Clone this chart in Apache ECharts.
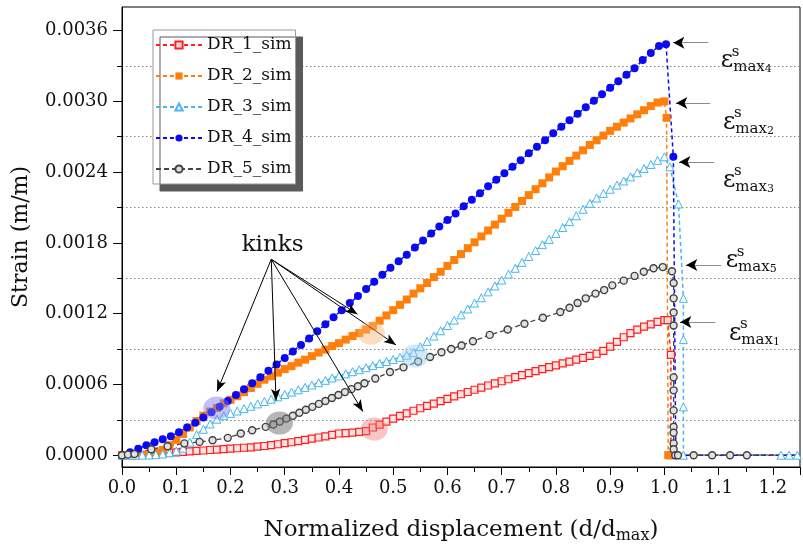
<!DOCTYPE html>
<html>
<head>
<meta charset="utf-8">
<script src="https://cdn.jsdelivr.net/npm/echarts@6/dist/echarts.min.js"></script>
<style>
  html, body { margin: 0; padding: 0; background: #fff; }
  #chart { width: 803px; height: 549px; }
</style>
</head>
<body>
<div id="chart"></div>
<script>
// shared sample positions (d/dmax) for the densely sampled runs
const xFine = [0,0.0125,0.025,0.0375,0.05,0.0625,0.075,0.0875,0.1,0.1125,0.125,0.1375,0.15,0.1625,0.175,0.1875,0.2,0.2125,0.225,0.2375,0.25,0.2625,0.275,0.2875,0.3,0.3125,0.325,0.3375,0.35,0.3625,0.375,0.3875,0.4,0.4125,0.425,0.4375,0.45,0.4625,0.475,0.4875,0.5,0.5125,0.525,0.5375,0.55,0.5625,0.575,0.5875,0.6,0.6125,0.625,0.6375,0.65,0.6625,0.675,0.6875,0.7,0.7125,0.725,0.7375,0.75,0.7625,0.775,0.7875,0.8,0.8125,0.825,0.8375,0.85,0.8625,0.875,0.8875,0.9,0.9125,0.925,0.9375,0.95,0.9625,0.975,0.9875,1.0]

const dr1Y = [0,0,0.01e-4,0.03e-4,0.08e-4,0.12e-4,0.16e-4,0.2e-4,0.24e-4,0.28e-4,0.32e-4,0.36e-4,0.4e-4,0.44e-4,0.48e-4,0.52e-4,0.55e-4,0.59e-4,0.63e-4,0.67e-4,0.72e-4,0.78e-4,0.85e-4,0.93e-4,1.02e-4,1.1e-4,1.2e-4,1.3e-4,1.4e-4,1.5e-4,1.6e-4,1.72e-4,1.84e-4,1.88e-4,1.92e-4,1.97e-4,2.04e-4,2.35e-4,2.6e-4,2.85e-4,3.1e-4,3.33e-4,3.55e-4,3.77e-4,3.98e-4,4.18e-4,4.38e-4,4.58e-4,4.78e-4,4.98e-4,5.17e-4,5.36e-4,5.55e-4,5.73e-4,5.91e-4,6.09e-4,6.27e-4,6.44e-4,6.62e-4,6.79e-4,6.96e-4,7.13e-4,7.3e-4,7.46e-4,7.62e-4,7.78e-4,7.94e-4,8.1e-4,8.26e-4,8.42e-4,8.6e-4,8.85e-4,9.2e-4,9.6e-4,10.0e-4,10.35e-4,10.65e-4,10.9e-4,11.1e-4,11.3e-4,11.45e-4]
const dr1Tail = [[1.006, 11.45e-4], [1.012, 8.5e-4], [1.012, 0], [1.25, 0]]

const dr2Y = [0,0,0,0.02e-4,0.05e-4,0.2e-4,0.45e-4,0.85e-4,1.3e-4,1.8e-4,2.35e-4,2.9e-4,3.35e-4,3.7e-4,4.0e-4,4.4e-4,4.7e-4,5.0e-4,5.35e-4,5.7e-4,6.05e-4,6.4e-4,6.7e-4,7.0e-4,7.3e-4,7.55e-4,7.85e-4,8.1e-4,8.4e-4,8.7e-4,8.95e-4,9.25e-4,9.5e-4,9.8e-4,10.1e-4,10.35e-4,10.65e-4,10.95e-4,11.4e-4,11.85e-4,12.3e-4,12.75e-4,13.2e-4,13.7e-4,14.15e-4,14.6e-4,15.1e-4,15.55e-4,16.05e-4,16.55e-4,17.05e-4,17.55e-4,18.05e-4,18.55e-4,19.05e-4,19.55e-4,20.05e-4,20.55e-4,21.05e-4,21.55e-4,22.05e-4,22.55e-4,23.05e-4,23.55e-4,24.05e-4,24.5e-4,24.95e-4,25.4e-4,25.85e-4,26.3e-4,26.7e-4,27.1e-4,27.5e-4,27.85e-4,28.2e-4,28.55e-4,28.9e-4,29.25e-4,29.6e-4,29.9e-4,30.0e-4]
const dr2Tail = [[1.004, 28.6e-4], [1.007, 0], [1.25, 0]]

const dr3Y = [0,0,0,0.01e-4,0.02e-4,0.05e-4,0.1e-4,0.2e-4,0.35e-4,0.6e-4,1.1e-4,1.75e-4,2.2e-4,2.65e-4,3.05e-4,3.35e-4,3.55e-4,3.75e-4,3.95e-4,4.15e-4,4.35e-4,4.55e-4,4.75e-4,4.95e-4,5.15e-4,5.35e-4,5.55e-4,5.75e-4,5.95e-4,6.15e-4,6.35e-4,6.55e-4,6.72e-4,6.9e-4,7.08e-4,7.25e-4,7.42e-4,7.6e-4,7.78e-4,7.95e-4,8.12e-4,8.3e-4,8.48e-4,8.7e-4,9.2e-4,9.65e-4,10.1e-4,10.55e-4,11.0e-4,11.45e-4,11.9e-4,12.4e-4,12.9e-4,13.35e-4,13.85e-4,14.35e-4,14.85e-4,15.35e-4,15.85e-4,16.35e-4,16.85e-4,17.35e-4,17.85e-4,18.3e-4,18.8e-4,19.3e-4,19.8e-4,20.3e-4,20.85e-4,21.35e-4,21.8e-4,22.2e-4,22.55e-4,22.9e-4,23.25e-4,23.6e-4,23.95e-4,24.3e-4,24.65e-4,25.0e-4,25.3e-4]
const dr3Tail = [[1.01, 24.45e-4], [1.026, 21.3e-4], [1.035, 13.3e-4], [1.035, 9.8e-4], [1.035, 4.1e-4], [1.035, 0], [1.215, 0], [1.23, 0], [1.245, 0], [1.25, 0]]

const xBlue = [0,0.015,0.03,0.045,0.06,0.075,0.09,0.105,0.12,0.135,0.15,0.165,0.18,0.195,0.21,0.225,0.24,0.255,0.27,0.285,0.3,0.315,0.33,0.345,0.36,0.375,0.39,0.405,0.42,0.435,0.45,0.465,0.48,0.495,0.51,0.525,0.54,0.555,0.57,0.585,0.6,0.615,0.63,0.645,0.66,0.675,0.69,0.705,0.72,0.735,0.75,0.765,0.78,0.795,0.81,0.825,0.84,0.855,0.87,0.885,0.9,0.915,0.93,0.945,0.96,0.975,0.99,1.003]
const dr4Y = [0,0.25e-4,0.55e-4,0.85e-4,1.1e-4,1.35e-4,1.6e-4,1.95e-4,2.35e-4,2.75e-4,3.2e-4,3.65e-4,4.1e-4,4.6e-4,5.1e-4,5.6e-4,6.1e-4,6.6e-4,7.15e-4,7.7e-4,8.25e-4,8.8e-4,9.35e-4,9.9e-4,10.5e-4,11.1e-4,11.7e-4,12.3e-4,12.9e-4,13.5e-4,14.1e-4,14.7e-4,15.3e-4,15.9e-4,16.45e-4,17.0e-4,17.6e-4,18.2e-4,18.8e-4,19.4e-4,19.95e-4,20.5e-4,21.1e-4,21.65e-4,22.2e-4,22.8e-4,23.35e-4,23.9e-4,24.45e-4,25.0e-4,25.6e-4,26.15e-4,26.7e-4,27.3e-4,27.85e-4,28.4e-4,28.95e-4,29.5e-4,30.05e-4,30.6e-4,31.15e-4,31.7e-4,32.25e-4,32.8e-4,33.5e-4,34.1e-4,34.7e-4,34.85e-4]
const dr4Tail = [[1.0165, 25.3e-4], [1.021, 0], [1.25, 0]]

const dr5 = [[0,0],[0.011,0.05e-4],[0.023,0.1e-4],[0.054,0.5e-4],[0.084,0.76e-4],[0.115,1.0e-4],[0.143,1.13e-4],[0.167,1.27e-4],[0.195,1.47e-4],[0.219,1.84e-4],[0.24,2.12e-4],[0.265,2.4e-4],[0.279,2.6e-4],[0.291,2.85e-4],[0.303,3.1e-4],[0.315,3.35e-4],[0.327,3.6e-4],[0.339,3.85e-4],[0.351,4.1e-4],[0.363,4.35e-4],[0.375,4.6e-4],[0.387,4.85e-4],[0.399,5.1e-4],[0.411,5.35e-4],[0.423,5.6e-4],[0.435,5.85e-4],[0.447,6.1e-4],[0.467,6.5e-4],[0.494,7.06e-4],[0.519,7.45e-4],[0.546,7.95e-4],[0.568,8.33e-4],[0.589,8.73e-4],[0.607,9.0e-4],[0.626,9.3e-4],[0.647,9.66e-4],[0.678,10.2e-4],[0.711,10.66e-4],[0.742,11.15e-4],[0.776,11.66e-4],[0.808,12.14e-4],[0.825,12.5e-4],[0.84,12.9e-4],[0.855,13.3e-4],[0.873,13.7e-4],[0.889,14.0e-4],[0.904,14.4e-4],[0.925,14.8e-4],[0.945,15.2e-4],[0.962,15.55e-4],[0.98,15.85e-4],[0.997,15.95e-4],[1.014,15.6e-4],[1.017,14.6e-4],[1.017,13.3e-4],[1.017,12.1e-4],[1.017,11.0e-4],[1.017,6.6e-4],[1.017,5.5e-4],[1.017,3.8e-4],[1.017,2.4e-4],[1.017,1.9e-4],[1.017,1.0e-4],[1.017,0.5e-4],[1.02,0],[1.025,0],[1.054,0],[1.088,0],[1.121,0],[1.152,0],[1.25,0]]

const seriesNames = ['DR_1_sim', 'DR_2_sim', 'DR_3_sim', 'DR_4_sim', 'DR_5_sim']
const yTicks = [0, 0.0006, 0.0012, 0.0018, 0.0024, 0.003, 0.0036]
const yMinorTicks = [0.0003, 0.0009, 0.0015, 0.0021, 0.0027, 0.0033]

// annotations (data coordinates)
const kinkOrigin = [0.2752, 0.001661]
const kinkTargets = [[0.1752, 0.00054], [0.284, 0.000462], [0.4441, 0.00037], [0.4342, 0.001196], [0.5051, 0.000935]]
const kinkSpots = [[0.1746, 0.0004], [0.2904, 0.000273], [0.4651, 0.000222], [0.4596, 0.001036], [0.5404, 0.000841]]
const kinkSpotColors = ['rgba(120,120,235,0.45)', 'rgba(110,110,110,0.5)', 'rgba(240,110,110,0.4)', 'rgba(248,180,120,0.45)', 'rgba(150,205,240,0.45)']
const kinkLabelPos = [0.2776, 0.001782]
const epsSubs = ['4', '2', '3', '5', '1']
const epsTail = [[1.081, 0.003497], [1.0846, 0.002986], [1.0919, 0.002486], [1.1048, 0.001613], [1.0938, 0.001129]]
const epsHead = [[1.0165, 0.003497], [1.022, 0.002986], [1.0276, 0.002486], [1.0404, 0.001613], [1.0294, 0.001129]]
const epsText = [[1.103, 0.003342], [1.107, 0.002821], [1.107, 0.002329], [1.112, 0.001647], [1.118, 0.001032]]

const font = 'DejaVu Serif'
const ink = '#111'

const toPairs = (xs, ys) => xs.map((x, i) => [x, ys[i]])
// last point of every run only carries the zero line out to the frame
const lastBare = pts => pts.map((p, i) => (i === pts.length - 1 ? { value: p, symbol: 'none' } : p))

const chart = echarts.init(document.getElementById('chart'))

const lineSeries = (name, data, opts) => ({
  name,
  type: 'line',
  data: lastBare(data),
  animation: false,
  silent: true,
  showSymbol: true,
  ...opts
})

const series = [
  lineSeries('DR_1_sim', toPairs(xFine, dr1Y).concat(dr1Tail), {
    symbol: 'rect',
    symbolSize: 7,
    itemStyle: { color: '#ffe2e2', borderColor: '#ff1f1f', borderWidth: 1.2 },
    lineStyle: { color: '#ff1f1f', width: 1.5, type: [4, 3] }
  }),
  lineSeries('DR_2_sim', toPairs(xFine, dr2Y).concat(dr2Tail), {
    symbol: 'rect',
    symbolSize: 8,
    itemStyle: { color: '#ff7f0a' },
    lineStyle: { color: '#ff7f0a', width: 1.5, type: [4, 3] }
  }),
  lineSeries('DR_3_sim', toPairs(xFine, dr3Y).concat(dr3Tail), {
    symbol: 'triangle',
    symbolSize: 8,
    itemStyle: { color: '#ffffff', borderColor: '#47b6ec', borderWidth: 1 },
    lineStyle: { color: '#47b6ec', width: 1.5, type: [4, 3] }
  }),
  lineSeries('DR_4_sim', toPairs(xBlue, dr4Y).concat(dr4Tail), {
    symbol: 'circle',
    symbolSize: 8,
    itemStyle: { color: '#0a0af2' },
    lineStyle: { color: '#0a0af2', width: 1.5, type: [4, 3] }
  }),
  lineSeries('DR_5_sim', dr5, {
    symbol: 'circle',
    symbolSize: 7,
    itemStyle: { color: '#e2e2e2', borderColor: '#404040', borderWidth: 1.4 },
    lineStyle: { color: '#454545', width: 1.3, type: [5, 3] }
  }),
  {
    name: 'annotations',
    type: 'line',
    data: [],
    z: 5,
    silent: true,
    animation: false,
    markLine: {
      silent: true,
      animation: false,
      symbol: ['none', 'arrow'],
      symbolSize: [7, 12],
      label: { show: false },
      lineStyle: { color: '#000', width: 1, type: 'solid' },
      data: [
        ...kinkTargets.map(t => [{ coord: kinkOrigin }, { coord: t }]),
        ...epsTail.map((t, i) => [
          { coord: t, lineStyle: { color: '#8c8c8c', width: 1.2, type: 'solid' } },
          { coord: epsHead[i], symbol: 'none' }
        ]),
        ...epsHead.map(h => [
          { coord: [h[0] + 0.012, h[1]], lineStyle: { color: '#000', width: 1, type: 'solid' }, symbol: 'none' },
          { coord: h, symbol: 'arrow', symbolSize: [9, 11] }
        ])
      ]
    },
    markPoint: {
      silent: true,
      animation: false,
      symbol: 'circle',
      label: { show: false },
      data: [
        ...kinkSpots.map((c, i) => ({
          coord: c,
          symbolSize: [27, 23],
          itemStyle: { color: kinkSpotColors[i] }
        })),
        {
          coord: kinkLabelPos,
          symbolSize: 1,
          itemStyle: { color: 'rgba(0,0,0,0)' },
          label: { show: true, position: 'inside', formatter: () => 'kinks', fontFamily: font, fontSize: 23, color: ink }
        },
        ...epsText.map((c, i) => ({
          coord: c,
          symbolSize: 1,
          itemStyle: { color: 'rgba(0,0,0,0)' },
          label: {
            show: true,
            position: 'right',
            distance: 0,
            formatter: () => `{e|ε}{m|max}{n|${epsSubs[i]}}`,
            rich: {
              e: { fontFamily: font, fontSize: 24, lineHeight: 28, color: ink },
              m: { fontFamily: font, fontSize: 15, lineHeight: 17, verticalAlign: 'bottom', color: ink },
              n: { fontFamily: font, fontSize: 11, lineHeight: 9, verticalAlign: 'bottom', color: ink }
            }
          }
        })),
        ...epsText.map(c => ({
          coord: c,
          symbolSize: 1,
          itemStyle: { color: 'rgba(0,0,0,0)' },
          label: { show: true, position: 'right', distance: 0, offset: [11, -9], formatter: () => 's', fontFamily: font, fontSize: 15, color: ink }
        }))
      ]
    }
  }
]

const option = {
  animation: false,
  backgroundColor: '#fff',
  grid: {
    left: 122,
    right: 1,
    top: 7,
    bottom: 82,
    show: true,
    borderColor: '#000',
    borderWidth: 1
  },
  legend: {
    data: seriesNames,
    orient: 'vertical',
    left: 153,
    top: 30,
    backgroundColor: '#fff',
    borderColor: '#9a9a9a',
    borderWidth: 1,
    shadowColor: '#5a5a5a',
    shadowOffsetX: 7,
    shadowOffsetY: 7,
    shadowBlur: 0,
    padding: [5, 4, 5, 2],
    itemWidth: 46,
    itemHeight: 9,
    itemGap: 11,
    selectedMode: false,
    textStyle: { fontFamily: font, fontSize: 17, color: ink, lineHeight: 20 }
  },
  xAxis: {
    type: 'value',
    min: 0,
    max: 1.25,
    interval: 0.1,
    axisLine: { show: true, onZero: false, lineStyle: { color: '#000', width: 1 } },
    axisTick: { show: true, length: 8, lineStyle: { color: '#000' } },
    minorTick: { show: true, splitNumber: 2, length: 5, lineStyle: { color: '#000' } },
    splitLine: { show: false },
    axisLabel: {
      margin: 12,
      fontFamily: font,
      fontSize: 18,
      color: ink,
      formatter: v => (v > 1.21 ? '' : v.toFixed(1))
    },
    name: '{a|Normalized displacement (d/d}{b|max}{a|)}',
    nameLocation: 'middle',
    nameGap: 49,
    nameTextStyle: {
      fontFamily: font,
      fontSize: 23,
      color: ink,
      rich: {
        a: { fontFamily: font, fontSize: 23, lineHeight: 28, color: ink },
        b: { fontFamily: font, fontSize: 16, lineHeight: 12, verticalAlign: 'bottom', color: ink }
      }
    }
  },
  yAxis: [
    {
      type: 'value',
      min: -0.0001,
      max: 0.0038,
      axisLine: { show: true, onZero: false, lineStyle: { color: '#000', width: 1 } },
      axisTick: { show: true, length: 9, customValues: yTicks, lineStyle: { color: '#000' } },
      axisLabel: {
        customValues: yTicks,
        margin: 14,
        fontFamily: font,
        fontSize: 18,
        color: ink,
        formatter: v => v.toFixed(4)
      },
      splitLine: { show: false },
      name: 'Strain (m/m)',
      nameLocation: 'middle',
      nameGap: 90,
      nameTextStyle: { fontFamily: font, fontSize: 22, color: ink }
    },
    {
      type: 'value',
      min: -0.0001,
      max: 0.0038,
      position: 'left',
      axisLine: { show: false, onZero: false },
      axisTick: { show: true, length: 5, customValues: yMinorTicks, lineStyle: { color: '#000' } },
      axisLabel: { show: false },
      splitLine: { show: true, lineStyle: { color: '#888', width: 1, type: [1.5, 2.5] } }
    }
  ],
  series
}

chart.setOption(option)
</script>
</body>
</html>
